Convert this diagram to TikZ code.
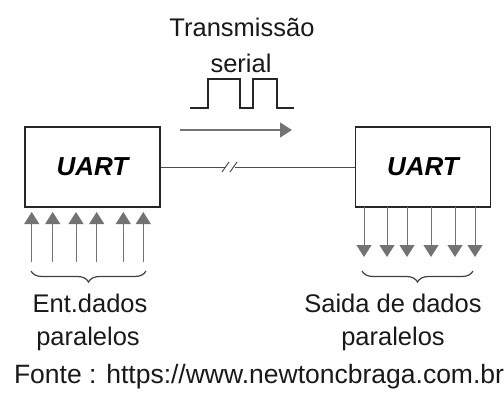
\documentclass[tikz,border=0pt]{standalone}
\usepackage{fontspec}
\setmainfont{Liberation Sans}
\usetikzlibrary{arrows.meta,decorations.pathreplacing}

\begin{document}
\begin{tikzpicture}[x=1pt,y=-1pt,
  uart/.style={draw=black!85,line width=1.6pt,minimum width=135pt,minimum height=80pt,font=\fontsize{26}{28}\selectfont\bfseries\itshape},
  txt/.style={font=\fontsize{25.5}{28}\selectfont,text=black!90},
  par/.style={-{Triangle[width=15pt,length=12pt]},draw=black!55,fill=black!65,line width=0.9pt},
  brc/.style={decorate,decoration={brace,mirror,amplitude=11pt},draw=black!75,line width=1.2pt}]
\useasboundingbox (0,0) rectangle (504,394);

%Blocos
\node[uart] (luart) at (92.5,167) {UART};
\node[uart] (ruart) at (423,167) {UART};

%Linha serial
\coordinate (gapa) at (225,167);
\coordinate (gapb) at (235,167);
\draw[black!70,line width=1pt] (luart) -- (gapa);
\draw[black!70,line width=1pt] (gapb) -- (ruart);
\draw[black!70,line width=1pt] (222,172) -- (229,162);
\draw[black!70,line width=1pt] (230,172) -- (237,162);

%Pulsos e seta
\draw[black!85,line width=1.6pt] (190,108) -- (208,108) -- (208,79) -- (240,79) -- (240,108)
  -- (253,108) -- (253,79) -- (277,79) -- (277,108) -- (294,108);
\coordinate (dira) at (180,130);
\coordinate (dirb) at (292,130);
\draw[par,line width=1.2pt] (dira) -- (dirb);

\node[txt] (trans) at (242,27) {Transmissão};
\node[txt] (serial) at (241,63) {serial};

%Entradas e saidas paralelas
\foreach \x in {31.7,52.7,76,96.7,123.3,143.3}
  \draw[par] (\x,262) -- (\x,212);
\foreach \x in {364,387,407,431,455,475}
  \draw[par] (\x,207) -- (\x,257);

\draw[brc] (31,271) -- (146,271);
\draw[brc] (362,271) -- (473,271);

\node[txt] (ent) at (90,303) {Ent.dados};
\node[txt] (entb) at (88,339) {paralelos};
\node[txt] (sai) at (393,303) {Saida de dados};
\node[txt] (saib) at (393,339) {paralelos};

\node[txt,font=\fontsize{26.5}{28}\selectfont] (fonte) at (259,377) {Fonte : https://www.newtoncbraga.com.br};

\end{tikzpicture}
\end{document}
